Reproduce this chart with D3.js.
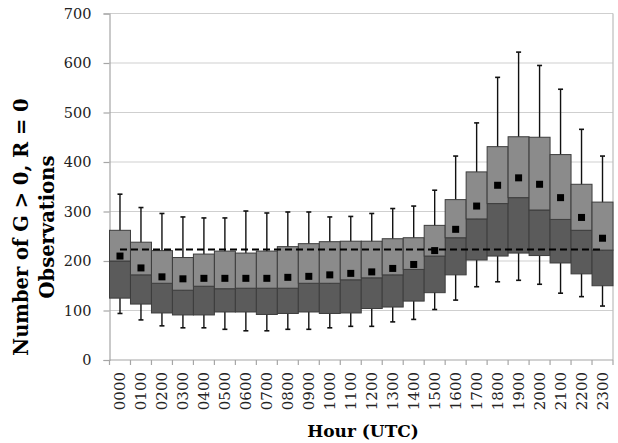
<script src="https://d3js.org/d3.v7.min.js"></script>
<style>
  body { margin: 0; background: #fff; }
  text { font-family: "DejaVu Serif", serif; }
</style>
<svg id="chart" width="618" height="443"></svg>
<script>
var hours = ["0000","0100","0200","0300","0400","0500","0600","0700","0800","0900","1000","1100",
             "1200","1300","1400","1500","1600","1700","1800","1900","2000","2100","2200","2300"]
var whiskerHigh = [335,308,296,289,287,287,301,297,299,299,289,290,296,306,311,343,412,479,571,622,595,547,466,412]
var q3 = [262,238,221,207,214,220,216,220,229,235,239,240,240,245,247,272,324,380,431,451,450,415,355,319]
var median = [200,172,155,141,149,144,145,145,145,155,155,162,166,172,183,210,247,285,316,328,303,284,262,222]
var q1 = [125,113,95,91,91,97,97,92,94,97,94,95,104,107,119,136,172,202,210,216,211,196,174,150]
var whiskerLow = [94,81,69,65,65,62,59,59,62,62,65,68,68,77,82,102,121,148,158,161,153,135,128,109]
var means = [210,186,168,164,165,165,165,165,167,169,172,175,178,185,193,221,264,311,353,368,355,328,288,246]
var overallMean = 223
var yTicks = [0,100,200,300,400,500,600,700]

var plotLeft = 109.5, plotRight = 613, plotTop = 13.5, plotBottom = 360

var svg = d3.select("#chart")

var x = d3.scaleBand().domain(hours).range([plotLeft, plotRight]).padding(0)
var y = d3.scaleLinear().domain([0, 700]).range([plotBottom, plotTop])

// gridlines
svg.append("g").selectAll("line")
  .data(yTicks.slice(1))
  .enter().append("line")
  .attr("x1", plotLeft).attr("x2", plotRight)
  .attr("y1", d => y(d)).attr("y2", d => y(d))
  .attr("stroke", "#cfcfcf").attr("stroke-width", 1.2)

// right border
svg.append("line")
  .attr("x1", plotRight).attr("x2", plotRight).attr("y1", plotTop).attr("y2", plotBottom)
  .attr("stroke", "#bdbdbd").attr("stroke-width", 1.2)

// y axis
var yAxis = svg.append("g")
  .attr("transform", `translate(${plotLeft},0)`)
  .call(d3.axisLeft(y).tickValues(yTicks).tickSize(6).tickPadding(12))
yAxis.select(".domain").attr("stroke", "#a6a6a6").attr("stroke-width", 1.2)
yAxis.selectAll(".tick line").attr("stroke", "#a6a6a6").attr("stroke-width", 1.2)
yAxis.selectAll(".tick text")
  .style("font-family", "DejaVu Serif, serif").style("font-size", "14.5px").attr("fill", "#222")

// x axis baseline and ticks between categories
svg.append("line")
  .attr("x1", plotLeft).attr("x2", plotRight).attr("y1", plotBottom).attr("y2", plotBottom)
  .attr("stroke", "#a6a6a6").attr("stroke-width", 1.2)
svg.append("g").selectAll("line")
  .data(hours.concat(["end"]))
  .enter().append("line")
  .attr("x1", (d, i) => i < hours.length ? x(d) : plotRight)
  .attr("x2", (d, i) => i < hours.length ? x(d) : plotRight)
  .attr("y1", plotBottom).attr("y2", plotBottom + 5)
  .attr("stroke", "#a6a6a6").attr("stroke-width", 1.2)

// x tick labels (rotated)
svg.append("g").selectAll("text")
  .data(hours)
  .enter().append("text")
  .attr("transform", d => `translate(${x(d) + x.bandwidth() / 2 + 5.5},372) rotate(-90)`)
  .attr("text-anchor", "end")
  .style("font-size", "15px")
  .attr("fill", "#222")
  .text(d => d)

var boxes = svg.append("g")
var cx = (d, i) => x(hours[i]) + x.bandwidth() / 2

// whiskers
boxes.selectAll(".wh")
  .data(hours)
  .enter().append("line")
  .attr("x1", cx).attr("x2", cx)
  .attr("y1", (d, i) => y(whiskerHigh[i])).attr("y2", (d, i) => y(whiskerLow[i]))
  .attr("stroke", "#111").attr("stroke-width", 1.4)
boxes.selectAll(".capHi")
  .data(hours)
  .enter().append("line")
  .attr("x1", (d, i) => cx(d, i) - 2.5).attr("x2", (d, i) => cx(d, i) + 2.5)
  .attr("y1", (d, i) => y(whiskerHigh[i])).attr("y2", (d, i) => y(whiskerHigh[i]))
  .attr("stroke", "#111").attr("stroke-width", 1.6)
boxes.selectAll(".capLo")
  .data(hours)
  .enter().append("line")
  .attr("x1", (d, i) => cx(d, i) - 2.5).attr("x2", (d, i) => cx(d, i) + 2.5)
  .attr("y1", (d, i) => y(whiskerLow[i])).attr("y2", (d, i) => y(whiskerLow[i]))
  .attr("stroke", "#111").attr("stroke-width", 1.6)

// lower box (Q1 to median)
boxes.selectAll(".lower")
  .data(hours)
  .enter().append("rect")
  .attr("x", d => x(d)).attr("width", x.bandwidth())
  .attr("y", (d, i) => y(median[i]))
  .attr("height", (d, i) => y(q1[i]) - y(median[i]))
  .attr("fill", "#5b5b5b").attr("stroke", "#3d3d3d").attr("stroke-width", 1)

// upper box (median to Q3)
boxes.selectAll(".upper")
  .data(hours)
  .enter().append("rect")
  .attr("x", d => x(d)).attr("width", x.bandwidth())
  .attr("y", (d, i) => y(q3[i]))
  .attr("height", (d, i) => y(median[i]) - y(q3[i]))
  .attr("fill", "#8b8b8b").attr("stroke", "#3d3d3d").attr("stroke-width", 1)

// overall mean dashed line
svg.append("line")
  .attr("x1", cx(hours[0], 0)).attr("x2", cx(hours[23], 23))
  .attr("y1", y(overallMean)).attr("y2", y(overallMean))
  .attr("stroke", "#000").attr("stroke-width", 2)
  .attr("stroke-dasharray", "7,4")

// mean markers
boxes.selectAll(".mean")
  .data(hours)
  .enter().append("rect")
  .attr("x", (d, i) => cx(d, i) - 3.5).attr("width", 7)
  .attr("y", (d, i) => y(means[i]) - 3.5).attr("height", 7)
  .attr("fill", "#000")

// axis titles
svg.append("text")
  .attr("x", 363).attr("y", 437)
  .attr("text-anchor", "middle")
  .style("font-size", "17px").style("font-weight", "bold")
  .text("Hour (UTC)")

var yTitle = svg.append("text")
  .attr("transform", "translate(0,227) rotate(-90)")
  .attr("text-anchor", "middle")
  .style("font-size", "19.5px").style("font-weight", "bold")
yTitle.append("tspan").attr("x", 0).attr("y", 28).text("Number of G > 0, R = 0")
yTitle.append("tspan").attr("x", 0).attr("y", 54).text("Observations")
</script>
